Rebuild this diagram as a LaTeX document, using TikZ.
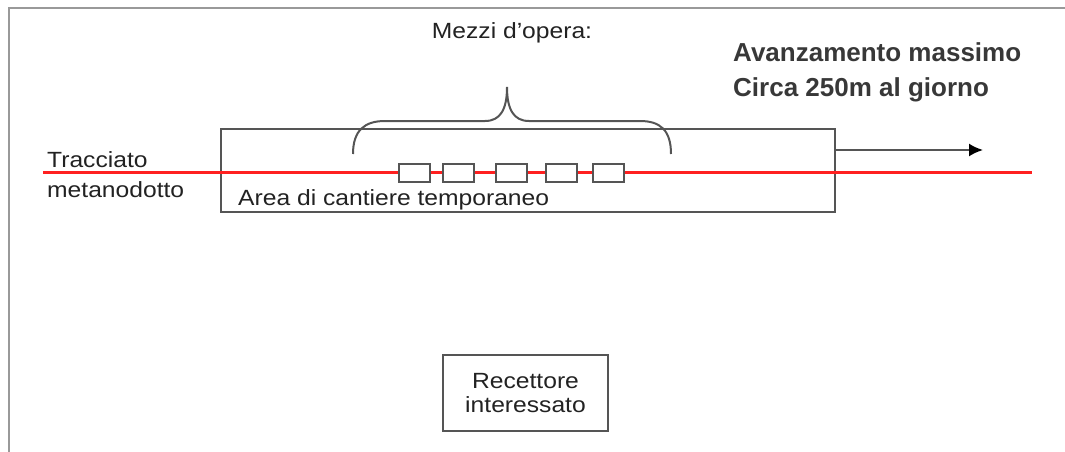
\documentclass[tikz,border=0pt]{standalone}
\usepackage{fontspec}
\setmainfont{Liberation Sans}
\newfontfamily\wide[FakeStretch=1.12]{Liberation Sans}
\usetikzlibrary{arrows.meta}
\definecolor{ln}{HTML}{555555}
\definecolor{txt}{HTML}{222222}
\definecolor{rl}{HTML}{FF2020}
\begin{document}
\begin{tikzpicture}[x=1pt,y=-1pt,
  lbl/.style={font=\wide\fontsize{22}{30}\selectfont, text=txt, inner sep=0pt},
  boxline/.style={draw=ln, line width=2.2pt},
  vehicle/.style={draw=ln, line width=2pt, fill=white, minimum width=31pt, minimum height=18pt, inner sep=0pt}]
\useasboundingbox (0,0) rectangle (1065,452);
% outer frame
\draw[draw=gray!80, line width=2.5pt] (9,452) -- (9,8) -- (1065,8);
% temporary site area
\node[boxline, minimum width=614pt, minimum height=83pt, inner sep=0pt] (area) at (528,170.5) {};
% red pipeline
\coordinate (pl) at (43,172);
\coordinate (pr) at (1032,172);
\draw[rl, line width=3pt] (pl) -- (pr);
% vehicles
\node[vehicle] (v1) at (414,173) {};
\node[vehicle] (v2) at (458,173) {};
\node[vehicle] (v3) at (511,173) {};
\node[vehicle] (v4) at (561,173) {};
\node[vehicle] (v5) at (608,173) {};
% brace
\draw[ln, line width=2pt] (353,154) .. controls (353,130) and (365,121) .. (385,121) -- (485,121)
  .. controls (500,121) and (507,110) .. (507,87)
  .. controls (507,110) and (514,121) .. (529,121) -- (640,121)
  .. controls (660,121) and (671,130) .. (671,154);
% arrow
\coordinate (as) at (835,150);
\coordinate (ae) at (983,150);
\draw[ln, line width=2pt, -{Latex[length=14pt,width=13pt,black,sep=0pt]}] (as) -- (ae);
% labels
\node[lbl, anchor=center] (mezzi) at (512,33) {Mezzi d’opera:};
\node[lbl, anchor=west, align=left] (tracc) at (47,175) {Tracciato\\metanodotto};
\node[lbl, anchor=west] (arealbl) at (238,200) {Area di cantiere temporaneo};
\node[font=\bfseries\fontsize{26}{35}\selectfont, text=txt!90!white, anchor=north west, align=left, inner sep=0pt] (avanz) at (733,42) {Avanzamento massimo\\Circa 250m al giorno};
% receptor
\node[boxline, minimum width=165pt, minimum height=76pt, inner sep=0pt, lbl, align=center, font=\wide\fontsize{22}{24}\selectfont] (rec) at (525.5,393) {Recettore\\interessato};
\end{tikzpicture}
\end{document}
